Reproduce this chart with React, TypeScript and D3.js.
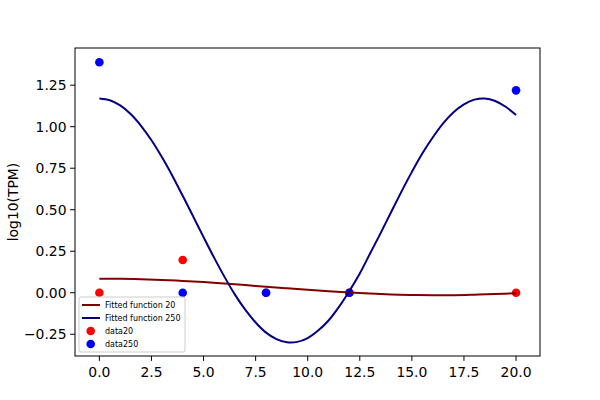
import React from 'react';
import * as d3 from 'd3';

// values
const fit20X = [0, 1, 2, 3, 4, 5, 6, 7, 8, 9, 10, 11, 12, 13, 14, 15, 16, 17, 18, 19, 20];
const fit20 = [0.085, 0.084, 0.081, 0.077, 0.071, 0.064, 0.055, 0.046, 0.036, 0.027, 0.018, 0.009, 0.001, -0.005, -0.010, -0.013, -0.015, -0.015, -0.012, -0.008, -0.003];

const fit250X = [0, 0.5, 1, 1.5, 2, 2.5, 3, 3.5, 4, 4.5, 5, 5.5, 6, 6.5, 7, 7.5, 8, 8.5, 9, 9.5, 10,
  10.5, 11, 11.5, 12, 12.5, 13, 13.5, 14, 14.5, 15, 15.5, 16, 16.5, 17, 17.5, 18, 18.5, 19, 19.5, 20];
const fit250 = [1.17, 1.159, 1.128, 1.076, 1.005, 0.918, 0.817, 0.705, 0.584, 0.460, 0.335, 0.213, 0.097, -0.010, -0.102, -0.179, -0.240, -0.279, -0.298, -0.296, -0.273,
  -0.228, -0.167, -0.085, 0.011, 0.116, 0.238, 0.359, 0.485, 0.609, 0.728, 0.839, 0.935, 1.020, 1.087, 1.134, 1.163, 1.170, 1.155, 1.120, 1.07];

const dataX = [0, 4, 8, 12, 20];
const data20 = [0, 0.197, 0, 0, 0];
const data250 = [1.388, 0, 0, 0, 1.219];

const xTicks = [0, 2.5, 5, 7.5, 10, 12.5, 15, 17.5, 20];
const yTicks = [-0.25, 0, 0.25, 0.5, 0.75, 1.0, 1.25];

const W = 600;
const H = 400;
const margin = { left: 75, right: 60, top: 48, bottom: 44 };
const font = '"DejaVu Sans", sans-serif';

const App: React.FC = () => {
  const x = d3.scaleLinear().domain([-1.17, 21.15]).range([margin.left, W - margin.right]);
  const y = d3.scaleLinear().domain([-0.381, 1.474]).range([H - margin.bottom, margin.top]);

  const makeLine = (xs: number[]) => d3.line<number>()
    .x((_, i) => x(xs[i]))
    .y(d => y(d))
    .curve(d3.curveCatmullRom);

  const fmtY = (v: number) => d3.format('.2f')(v).replace('-', '\u2212');
  const fmtX = d3.format('.1f');

  const plotBottom = H - margin.bottom;
  const lx = 79;
  const ly = 297;
  const rows = [305, 318, 331, 344];

  return (
    <svg width={W} height={H} style={{ position: 'absolute', left: 0, top: 0, background: '#fff' }}>
      <rect x={0} y={0} width={W} height={H} fill="#fff" />

      {/* scatter sits under the lines, as in matplotlib */}
      {data20.map((v, i) => (
        <circle key={'r' + i} cx={x(dataX[i])} cy={y(v)} r={4.3} fill="red" />
      ))}
      {data250.map((v, i) => (
        <circle key={'b' + i} cx={x(dataX[i])} cy={y(v)} r={4.3} fill="blue" />
      ))}

      <path d={makeLine(fit20X)(fit20) || ''} fill="none" stroke="#800000" strokeWidth={2} />
      <path d={makeLine(fit250X)(fit250) || ''} fill="none" stroke="#000080" strokeWidth={2} />

      {/* axes frame */}
      <rect x={margin.left} y={margin.top} width={W - margin.left - margin.right}
        height={H - margin.top - margin.bottom} fill="none" stroke="#000" strokeWidth={1} />

      {xTicks.map(t => (
        <g key={'x' + t}>
          <line x1={x(t)} x2={x(t)} y1={plotBottom} y2={plotBottom + 4.9} stroke="#000" />
          <text x={x(t)} y={plotBottom + 20.5} textAnchor="middle" fontFamily={font} fontSize={13.9}>{fmtX(t)}</text>
        </g>
      ))}
      {yTicks.map(t => (
        <g key={'y' + t}>
          <line x1={margin.left - 4.9} x2={margin.left} y1={y(t)} y2={y(t)} stroke="#000" />
          <text x={margin.left - 8.5} y={y(t)} dy="0.35em" textAnchor="end" fontFamily={font} fontSize={13.9}>{fmtY(t)}</text>
        </g>
      ))}

      <text transform={`translate(17.5,${(margin.top + plotBottom) / 2}) rotate(-90)`} textAnchor="middle"
        fontFamily={font} fontSize={13.9}>log10(TPM)</text>

      {/* legend */}
      <rect x={lx} y={ly} width={106} height={55} rx={2} fill="#fff" fillOpacity={0.8} stroke="#ccc" strokeWidth={1} />
      <line x1={82} x2={100} y1={rows[0]} y2={rows[0]} stroke="#800000" strokeWidth={2} />
      <line x1={82} x2={100} y1={rows[1]} y2={rows[1]} stroke="#000080" strokeWidth={2} />
      <circle cx={90.7} cy={rows[2]} r={4.3} fill="red" />
      <circle cx={90.7} cy={rows[3]} r={4.3} fill="blue" />
      {['Fitted function 20', 'Fitted function 250', 'data20', 'data250'].map((s, i) => (
        <text key={s} x={105} y={rows[i]} dy="0.35em" fontFamily={font} fontSize={8}>{s}</text>
      ))}
    </svg>
  );
};

export default App;
